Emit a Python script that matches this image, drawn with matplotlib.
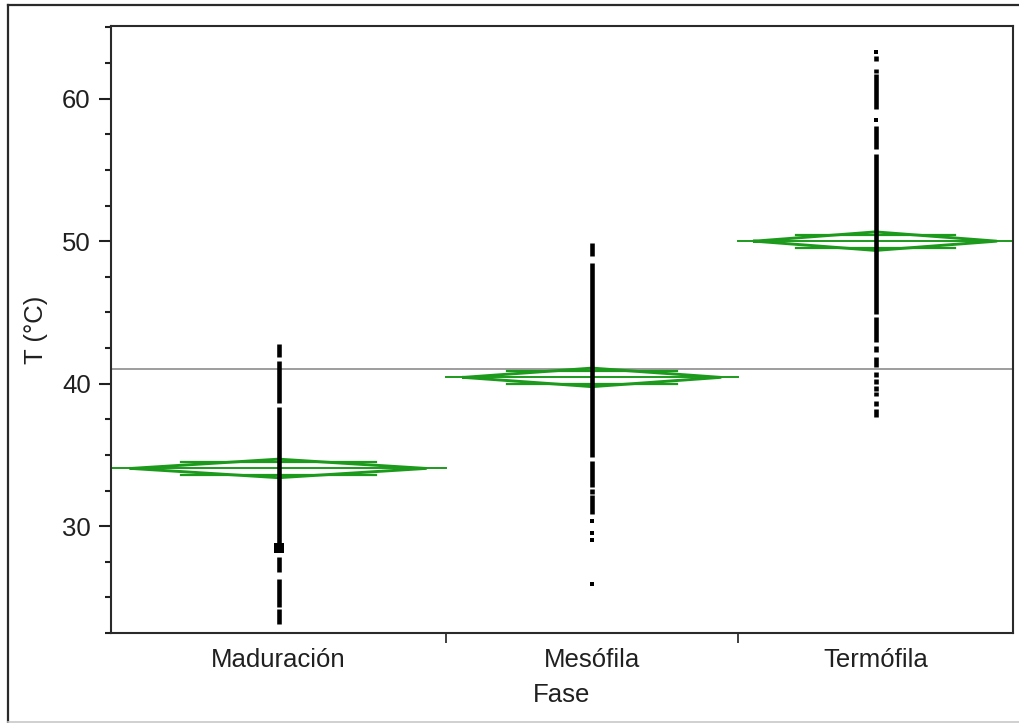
import numpy as np
import matplotlib
matplotlib.use("Agg")
from matplotlib import pyplot as plt
from matplotlib.lines import Line2D
from matplotlib.ticker import MultipleLocator, FixedLocator

plt.rcParams["font.family"] = ["Liberation Sans", "DejaVu Sans"]

# groups (width of each group ~ sample size, as in the JMP plot)
fases = ["Maduración", "Mesófila", "Termófila"]
group_n = [335, 292, 275]
medias = [34.05, 40.44, 50.0]
ic95 = [0.65, 0.65, 0.65]
media_global = 41.05

# observed temperatures: continuous runs of points (lo, hi) and isolated points
mad_runs = [(41.84, 42.78), (38.62, 41.56), (28.77, 38.34), (26.78, 27.83),
            (24.32, 26.31), (23.16, 24.21)]
mad_points = []
mad_big = [28.44]

meso_runs = [(48.97, 49.90), (34.84, 48.5), (32.73, 34.6), (32.27, 32.62),
             (30.87, 32.15)]
meso_points = [30.35, 29.5, 29.05, 25.93]

termo_runs = [(62.67, 63.0), (61.8, 62.1), (59.3, 61.7), (56.5, 58.1),
              (44.9, 56.1), (42.9, 44.7), (42.19, 42.66), (41.14, 41.89),
              (40.44, 40.79), (39.98, 40.33), (39.51, 39.86), (39.16, 39.39),
              (38.46, 38.81), (37.64, 38.23)]
termo_points = [63.3, 58.5]

runs = [mad_runs, meso_runs, termo_runs]
points = [mad_points, meso_points, termo_points]

W, H = 1019, 723
fig = plt.figure(figsize=(W/100, H/100), dpi=100)
ax = fig.add_axes([111/W, 1-633/H, (1013-111)/W, (633-26)/H])

edges = np.concatenate([[0], np.cumsum(group_n)])
centers = (edges[:-1] + edges[1:]) / 2

verde = "#1c9a1c"
txt = "#202020"

# grand mean
ax.axhline(media_global, color="#8c8c8c", lw=1.2, zorder=1)

for i in range(len(fases)):
    x0, x1, xc = edges[i], edges[i+1], centers[i]
    m, c = medias[i], ic95[i]
    marg = 0.06 * (x1 - x0)
    # mean line across the group
    ax.plot([x0, x1], [m, m], color=verde, lw=1.4, zorder=2)
    # diamond
    ax.plot([x0+marg, xc, x1-marg, xc, x0+marg], [m, m+c, m, m-c, m],
            color=verde, lw=2.1, zorder=2)
    # overlap marks
    half = 0.33 * (x1 - x0 - 2*marg)
    for s in (1, -1):
        ax.plot([xc-half, xc+half], [m + s*c/np.sqrt(2)]*2,
                color=verde, lw=1.6, zorder=2)
    # observations
    lo = [r[0] for r in runs[i]]
    hi = [r[1] for r in runs[i]]
    ax.vlines([xc]*len(lo), lo, hi, color="black", lw=3.3, zorder=3)
    if points[i]:
        ax.plot([xc]*len(points[i]), points[i], "s", color="black",
                ms=3.4, mew=0, zorder=3)

ax.plot([centers[0]]*len(mad_big), mad_big, "s", color="black", ms=6.5,
        mew=0, zorder=3)

ax.set_xlim(0, edges[-1])
ax.set_ylim(22.5, 65.1)

ax.yaxis.set_major_locator(FixedLocator([30, 40, 50, 60]))
ax.yaxis.set_minor_locator(MultipleLocator(2.5))
ax.set_xticks(centers)
ax.set_xticklabels(fases)
ax.xaxis.set_minor_locator(FixedLocator(edges[1:-1]))

ax.tick_params(axis="y", which="major", length=8.6, width=1.5, pad=6,
               labelsize=18.5, colors=txt)
ax.tick_params(axis="y", which="minor", length=4.3, width=1.5, colors=txt)
ax.tick_params(axis="x", which="major", length=0, pad=11, labelsize=18.5,
               colors=txt)
ax.tick_params(axis="x", which="minor", length=7, width=1.2, colors=txt)

for sp in ax.spines.values():
    sp.set_linewidth(1.5)
    sp.set_color("#2a2a2a")

ax.set_xlabel("Fase", fontsize=18.5, color=txt, labelpad=8)
ax.set_ylabel("T (°C)", fontsize=18.5, color=txt, labelpad=10)

# outer frame
fig.add_artist(Line2D([7.5/W, 7.5/W], [1-5/H, 1-721.5/H], color="#2a2a2a", lw=1.6,
                      transform=fig.transFigure))
fig.add_artist(Line2D([7.5/W, 1], [1-5/H, 1-5/H], color="#2a2a2a", lw=1.6,
                      transform=fig.transFigure))
fig.add_artist(Line2D([7.5/W, 1], [1-721.5/H, 1-721.5/H], color="#c8c8c8", lw=1.2,
                      transform=fig.transFigure))

fig.savefig("out.png", dpi=100)
